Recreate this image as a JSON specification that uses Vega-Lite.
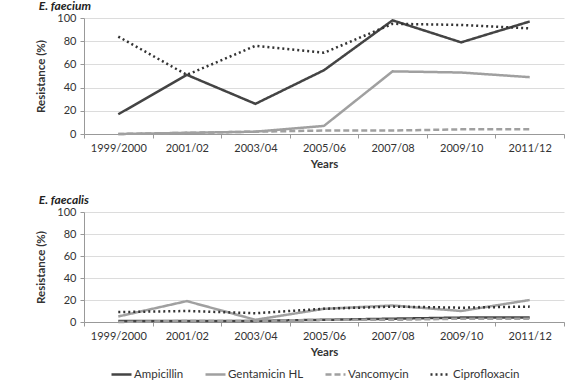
{
  "$schema": "https://vega.github.io/schema/vega-lite/v6.json",
  "padding": {"left": 35, "top": 0, "right": 5, "bottom": 0},
  "spacing": 24,
  "config": {
    "font": "Lato",
    "view": {"stroke": null},
    "axis": {"labelFont": "Lato", "titleFont": "Lato", "labelColor": "#333", "titleColor": "#333", "domainColor": "#999", "tickColor": "#999", "gridColor": "#dcdcdc", "labelFontSize": 11, "titleFontSize": 11.5, "titleFontWeight": "bold"},
    "title": {"font": "Lato", "fontSize": 12, "fontStyle": "italic", "fontWeight": "bold", "anchor": "start", "color": "#222", "offset": -1, "dx": 3},
    "legend": {"labelFont": "Lato", "labelFontSize": 11.5, "labelColor": "#333", "symbolType": "stroke", "symbolSize": 400, "symbolStrokeWidth": 2.5, "columnPadding": 16, "labelOffset": 1, "title": null}
  },
  "data": {"values": [
    {"sp": "faecium", "year": "1999/2000", "drug": "Ampicillin", "v": 17},
    {"sp": "faecium", "year": "2001/02", "drug": "Ampicillin", "v": 51},
    {"sp": "faecium", "year": "2003/04", "drug": "Ampicillin", "v": 26},
    {"sp": "faecium", "year": "2005/06", "drug": "Ampicillin", "v": 55},
    {"sp": "faecium", "year": "2007/08", "drug": "Ampicillin", "v": 98},
    {"sp": "faecium", "year": "2009/10", "drug": "Ampicillin", "v": 79},
    {"sp": "faecium", "year": "2011/12", "drug": "Ampicillin", "v": 97},
    {"sp": "faecium", "year": "1999/2000", "drug": "Gentamicin HL", "v": 0},
    {"sp": "faecium", "year": "2001/02", "drug": "Gentamicin HL", "v": 1},
    {"sp": "faecium", "year": "2003/04", "drug": "Gentamicin HL", "v": 2},
    {"sp": "faecium", "year": "2005/06", "drug": "Gentamicin HL", "v": 7},
    {"sp": "faecium", "year": "2007/08", "drug": "Gentamicin HL", "v": 54},
    {"sp": "faecium", "year": "2009/10", "drug": "Gentamicin HL", "v": 53},
    {"sp": "faecium", "year": "2011/12", "drug": "Gentamicin HL", "v": 49},
    {"sp": "faecium", "year": "1999/2000", "drug": "Vancomycin", "v": 0},
    {"sp": "faecium", "year": "2001/02", "drug": "Vancomycin", "v": 1},
    {"sp": "faecium", "year": "2003/04", "drug": "Vancomycin", "v": 2},
    {"sp": "faecium", "year": "2005/06", "drug": "Vancomycin", "v": 3},
    {"sp": "faecium", "year": "2007/08", "drug": "Vancomycin", "v": 3},
    {"sp": "faecium", "year": "2009/10", "drug": "Vancomycin", "v": 4},
    {"sp": "faecium", "year": "2011/12", "drug": "Vancomycin", "v": 4},
    {"sp": "faecium", "year": "1999/2000", "drug": "Ciprofloxacin", "v": 84},
    {"sp": "faecium", "year": "2001/02", "drug": "Ciprofloxacin", "v": 51},
    {"sp": "faecium", "year": "2003/04", "drug": "Ciprofloxacin", "v": 76},
    {"sp": "faecium", "year": "2005/06", "drug": "Ciprofloxacin", "v": 70},
    {"sp": "faecium", "year": "2007/08", "drug": "Ciprofloxacin", "v": 95},
    {"sp": "faecium", "year": "2009/10", "drug": "Ciprofloxacin", "v": 94},
    {"sp": "faecium", "year": "2011/12", "drug": "Ciprofloxacin", "v": 91},
    {"sp": "faecalis", "year": "1999/2000", "drug": "Ampicillin", "v": 1},
    {"sp": "faecalis", "year": "2001/02", "drug": "Ampicillin", "v": 1},
    {"sp": "faecalis", "year": "2003/04", "drug": "Ampicillin", "v": 1},
    {"sp": "faecalis", "year": "2005/06", "drug": "Ampicillin", "v": 2},
    {"sp": "faecalis", "year": "2007/08", "drug": "Ampicillin", "v": 3},
    {"sp": "faecalis", "year": "2009/10", "drug": "Ampicillin", "v": 4},
    {"sp": "faecalis", "year": "2011/12", "drug": "Ampicillin", "v": 4},
    {"sp": "faecalis", "year": "1999/2000", "drug": "Gentamicin HL", "v": 5},
    {"sp": "faecalis", "year": "2001/02", "drug": "Gentamicin HL", "v": 19},
    {"sp": "faecalis", "year": "2003/04", "drug": "Gentamicin HL", "v": 2},
    {"sp": "faecalis", "year": "2005/06", "drug": "Gentamicin HL", "v": 12},
    {"sp": "faecalis", "year": "2007/08", "drug": "Gentamicin HL", "v": 15},
    {"sp": "faecalis", "year": "2009/10", "drug": "Gentamicin HL", "v": 10},
    {"sp": "faecalis", "year": "2011/12", "drug": "Gentamicin HL", "v": 20},
    {"sp": "faecalis", "year": "1999/2000", "drug": "Vancomycin", "v": 0},
    {"sp": "faecalis", "year": "2001/02", "drug": "Vancomycin", "v": 1},
    {"sp": "faecalis", "year": "2003/04", "drug": "Vancomycin", "v": 1},
    {"sp": "faecalis", "year": "2005/06", "drug": "Vancomycin", "v": 2},
    {"sp": "faecalis", "year": "2007/08", "drug": "Vancomycin", "v": 2},
    {"sp": "faecalis", "year": "2009/10", "drug": "Vancomycin", "v": 3},
    {"sp": "faecalis", "year": "2011/12", "drug": "Vancomycin", "v": 3},
    {"sp": "faecalis", "year": "1999/2000", "drug": "Ciprofloxacin", "v": 9},
    {"sp": "faecalis", "year": "2001/02", "drug": "Ciprofloxacin", "v": 10},
    {"sp": "faecalis", "year": "2003/04", "drug": "Ciprofloxacin", "v": 8},
    {"sp": "faecalis", "year": "2005/06", "drug": "Ciprofloxacin", "v": 12},
    {"sp": "faecalis", "year": "2007/08", "drug": "Ciprofloxacin", "v": 14},
    {"sp": "faecalis", "year": "2009/10", "drug": "Ciprofloxacin", "v": 13},
    {"sp": "faecalis", "year": "2011/12", "drug": "Ciprofloxacin", "v": 14}
  ]},
  "vconcat": [
    {
      "title": "E. faecium",
      "width": 480, "height": 116,
      "transform": [{"filter": "datum.sp === 'faecium'"}],
      "mark": {"type": "line", "strokeWidth": 2.5},
      "encoding": {
        "x": {"field": "year", "type": "ordinal", "sort": null, "title": "Years", "bandPosition": 0.5, "scale": {"type": "band", "paddingInner": 0, "paddingOuter": 0}, "axis": {"labelAngle": 0, "grid": false, "ticks": true, "tickBand": "extent", "tickSize": 4, "labelPadding": 4, "titlePadding": 5}},
        "y": {"field": "v", "type": "quantitative", "title": "Resistance (%)", "scale": {"domain": [0, 100]}, "axis": {"values": [0, 20, 40, 60, 80, 100], "tickSize": 4, "labelPadding": 4, "titlePadding": 10}},
        "color": {"field": "drug", "type": "nominal", "sort": null, "scale": {"domain": ["Ampicillin", "Gentamicin HL", "Vancomycin", "Ciprofloxacin"], "range": ["#444444", "#a0a0a0", "#a0a0a0", "#333333"]}, "legend": {"orient": "none", "direction": "horizontal", "legendX": 26, "legendY": 345}},
        "strokeDash": {"field": "drug", "type": "nominal", "sort": null, "scale": {"domain": ["Ampicillin", "Gentamicin HL", "Vancomycin", "Ciprofloxacin"], "range": [[1, 0], [1, 0], [6, 3], [2, 3]]}, "legend": {"orient": "none", "direction": "horizontal", "legendX": 26, "legendY": 345}}
      }
    },
    {
      "title": "E. faecalis",
      "width": 480, "height": 110,
      "transform": [{"filter": "datum.sp === 'faecalis'"}],
      "mark": {"type": "line", "strokeWidth": 2.5},
      "encoding": {
        "x": {"field": "year", "type": "ordinal", "sort": null, "title": "Years", "bandPosition": 0.5, "scale": {"type": "band", "paddingInner": 0, "paddingOuter": 0}, "axis": {"labelAngle": 0, "grid": false, "ticks": true, "tickBand": "extent", "tickSize": 4, "labelPadding": 4, "titlePadding": 5}},
        "y": {"field": "v", "type": "quantitative", "title": "Resistance (%)", "scale": {"domain": [0, 100]}, "axis": {"values": [0, 20, 40, 60, 80, 100], "tickSize": 4, "labelPadding": 4, "titlePadding": 10}},
        "color": {"field": "drug", "type": "nominal", "sort": null, "scale": {"domain": ["Ampicillin", "Gentamicin HL", "Vancomycin", "Ciprofloxacin"], "range": ["#444444", "#a0a0a0", "#a0a0a0", "#333333"]}, "legend": {"orient": "none", "direction": "horizontal", "legendX": 26, "legendY": 345}},
        "strokeDash": {"field": "drug", "type": "nominal", "sort": null, "scale": {"domain": ["Ampicillin", "Gentamicin HL", "Vancomycin", "Ciprofloxacin"], "range": [[1, 0], [1, 0], [6, 3], [2, 3]]}, "legend": {"orient": "none", "direction": "horizontal", "legendX": 26, "legendY": 345}}
      }
    }
  ]
}
